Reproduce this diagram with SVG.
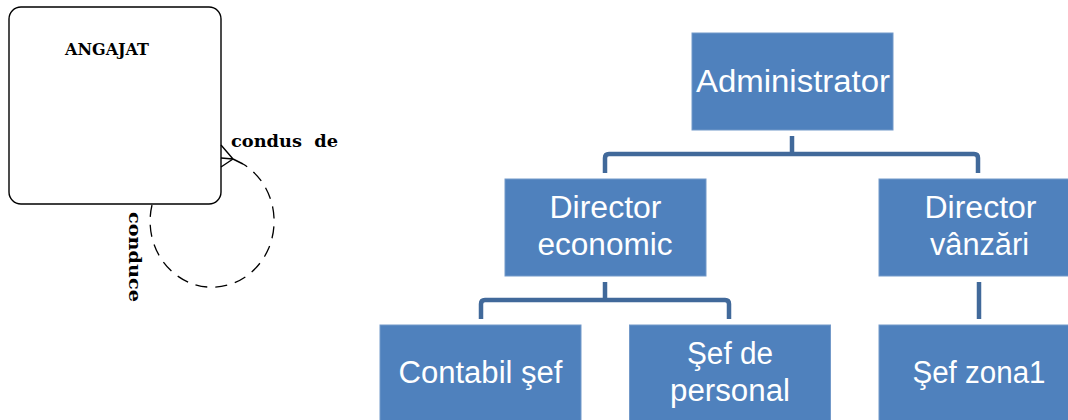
<svg xmlns="http://www.w3.org/2000/svg" width="1068" height="420" viewBox="0 0 1068 420">
  <style>
    .er { fill: none; stroke: #000; stroke-width: 1.4; }
    .dash { fill: none; stroke: #000; stroke-width: 1.3; stroke-dasharray: 12 8; }
    .ertxt { font-family: "DejaVu Serif", "Liberation Serif", serif; font-weight: bold; fill: #000; }
    .box { fill: #4f81bd; stroke: #7399c9; stroke-width: 1; }
    .lbl { font-family: "Liberation Sans", Arial, sans-serif; font-size: 31px; fill: #fff; text-anchor: middle; }
    .conn { fill: none; stroke: #41699a; stroke-width: 4.5; }
  </style>

  <!-- ER entity with recursive relationship -->
  <g id="angajat">
    <rect class="er" x="9" y="7" width="212" height="197" rx="12" ry="12"/>
    <text class="ertxt" x="65" y="55" font-size="17" textLength="84" lengthAdjust="spacingAndGlyphs">ANGAJAT</text>
  </g>
  <g id="relationship">
    <path class="dash" d="M152,205 A62,66 0 1 0 243,164"/>
    <path class="er" d="M221,145 L233,159 M221,158 L233,159 M221,167 L233,159 M233,159 L243,164"/>
    <text class="ertxt" x="231" y="147" font-size="17" textLength="107" lengthAdjust="spacingAndGlyphs" xml:space="preserve">condus  de</text>
    <text class="ertxt" font-size="17" textLength="90" lengthAdjust="spacingAndGlyphs" transform="translate(129,212) rotate(90)">conduce</text>
  </g>

  <!-- Org chart connectors -->
  <g id="connectors">
    <path class="conn" d="M792,136 V154 M605,173 V158 Q605,154 609,154 H974 Q978,154 978,158 V173"/>
    <path class="conn" d="M605,282 V300 M481,319 V304 Q481,300 485,300 H725 Q729,300 729,304 V319"/>
    <path class="conn" d="M979,282 V319"/>
  </g>

  <!-- Org chart nodes -->
  <g id="administrator">
    <rect class="box" x="692" y="33" width="201" height="97"/>
    <text class="lbl" x="793" y="92" textLength="194" lengthAdjust="spacingAndGlyphs">Administrator</text>
  </g>
  <g id="director-economic">
    <rect class="box" x="505" y="179" width="201" height="97"/>
    <text class="lbl" x="605.5" y="218" textLength="112" lengthAdjust="spacingAndGlyphs">Director</text>
    <text class="lbl" x="605" y="255" textLength="135" lengthAdjust="spacingAndGlyphs">economic</text>
  </g>
  <g id="director-vanzari">
    <rect class="box" x="879" y="179" width="201" height="97"/>
    <text class="lbl" x="980.5" y="218" textLength="112" lengthAdjust="spacingAndGlyphs">Director</text>
    <text class="lbl" x="979.5" y="255" textLength="99" lengthAdjust="spacingAndGlyphs">vânzări</text>
  </g>
  <g id="contabil-sef">
    <rect class="box" x="380" y="325" width="201" height="100"/>
    <text class="lbl" x="480.5" y="383" textLength="164" lengthAdjust="spacingAndGlyphs">Contabil şef</text>
  </g>
  <g id="sef-personal">
    <rect class="box" x="629.5" y="325" width="201" height="100"/>
    <text class="lbl" x="730" y="364" textLength="86" lengthAdjust="spacingAndGlyphs">Şef de</text>
    <text class="lbl" x="730" y="401" textLength="120" lengthAdjust="spacingAndGlyphs">personal</text>
  </g>
  <g id="sef-zona1">
    <rect class="box" x="879" y="325" width="201" height="100"/>
    <text class="lbl" x="979" y="383" textLength="133" lengthAdjust="spacingAndGlyphs">Şef zona1</text>
  </g>
</svg>
